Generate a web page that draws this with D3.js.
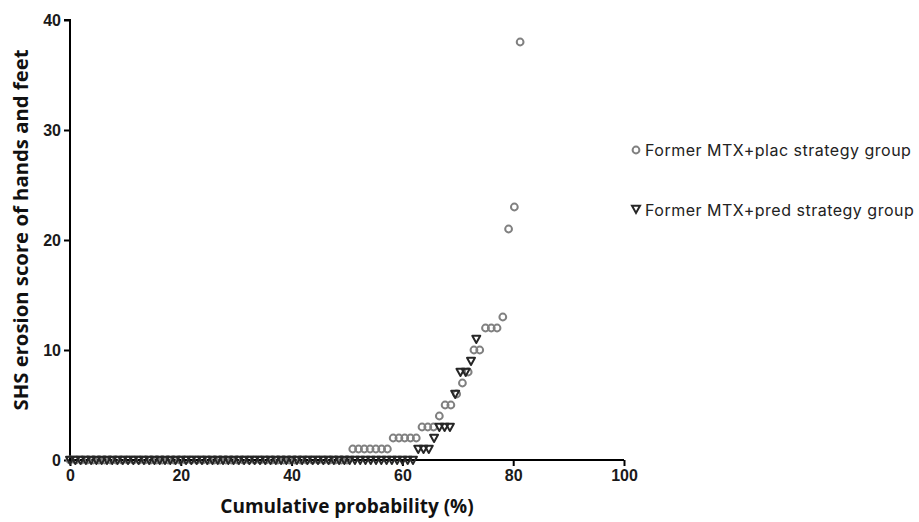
<!DOCTYPE html>
<html>
<head>
<meta charset="utf-8">
<script src="https://cdn.jsdelivr.net/npm/d3@7"></script>
<style>
  body { margin: 0; background: #fff; }
  .tick text { font-family: "Liberation Sans", Arial, sans-serif; font-weight: bold; font-size: 16px; fill: #1a1a1a; }
</style>
</head>
<body>
<div id="chart"></div>
<script>
// SHS erosion scores, sorted ascending
// [score, how many patients]
var placScores = [[0, 49], [1, 7], [2, 5], [3, 3], [4, 1], [5, 2], [6, 1], [7, 1], [8, 1],
                  [10, 2], [12, 3], [13, 1], [21, 1], [23, 1], [38, 1]];
var predScores = [[0, 66], [1, 3], [2, 1], [3, 3], [6, 1], [8, 2], [9, 1], [11, 1]];
// group sizes used for the cumulative probability
var placN = 96;
var predN = 105;

var xTicks = [0, 20, 40, 60, 80, 100];
var yTicks = [0, 10, 20, 30, 40];
var seriesNames = ['Former MTX+plac strategy group', 'Former MTX+pred strategy group'];

const width = 919;
const height = 522;
const margin = { top: 20, left: 70, right: 295, bottom: 62 };

// expand score/count pairs into ranked points
function cumulative(scores, n) {
  var out = [];
  scores.forEach(s => {
    for (let k = 0; k < s[1]; k++) out.push({ score: s[0] });
  });
  out.forEach((d, i) => { d.p = i * 100 / n; });
  return out;
}

var plac = cumulative(placScores, placN);
var pred = cumulative(predScores, predN);

var svg = d3.select('#chart').append('svg')
  .attr('width', width)
  .attr('height', height);

var x = d3.scaleLinear().domain([0, 100]).range([margin.left, 624]);
var y = d3.scaleLinear().domain([0, 40]).range([height - margin.bottom, margin.top]);

// axes
svg.append('g')
  .attr('transform', `translate(0,${y(0)})`)
  .call(d3.axisBottom(x).tickValues(xTicks).tickSize(6).tickPadding(4))
  .call(g => g.select('.domain').attr('stroke-width', 2).attr('d', `M${x(0)},0H${x(100)}`))
  .call(g => g.selectAll('.tick line').attr('stroke-width', 2));

svg.append('g')
  .attr('transform', `translate(${x(0)},0)`)
  .call(d3.axisLeft(y).tickValues(yTicks).tickSize(6).tickPadding(3))
  .call(g => g.select('.domain').attr('stroke-width', 2).attr('d', `M-6,${y(40)}H0V${y(0)}`))
  .call(g => g.selectAll('.tick line').attr('stroke-width', 2));

// axis titles
svg.append('text')
  .attr('x', (x(0) + x(100)) / 2)
  .attr('y', 513)
  .attr('text-anchor', 'middle')
  .style('font-family', '"Open Sans", sans-serif')
  .style('font-weight', 'bold')
  .style('font-size', '19px')
  .style('fill', '#111')
  .text('Cumulative probability (%)');

svg.append('text')
  .attr('transform', `translate(28,${(y(0) + y(40)) / 2 - 10}) rotate(-90)`)
  .attr('text-anchor', 'middle')
  .style('font-family', '"Open Sans", sans-serif')
  .style('font-weight', 'bold')
  .style('font-size', '20.3px')
  .style('fill', '#111')
  .text('SHS erosion score of hands and feet');

var triangle = 'M-4,-3.2L4,-3.2L0,4Z';

// circles first, triangles drawn on top where they overlap
svg.append('g').selectAll('circle')
  .data(plac)
  .enter()
  .append('circle')
  .attr('cx', d => x(d.p))
  .attr('cy', d => y(d.score))
  .attr('r', 3.4)
  .attr('fill', 'none')
  .attr('stroke', '#808080')
  .attr('stroke-width', 2);

svg.append('g').selectAll('path')
  .data(pred)
  .enter()
  .append('path')
  .attr('d', triangle)
  .attr('transform', d => `translate(${x(d.p)},${y(d.score)})`)
  .attr('fill', 'none')
  .attr('stroke', '#262626')
  .attr('stroke-width', 2)
  .attr('stroke-linejoin', 'round');

// legend
var legend = svg.append('g');
legend.append('circle')
  .attr('cx', 636).attr('cy', 150).attr('r', 3.4)
  .attr('fill', 'none').attr('stroke', '#808080').attr('stroke-width', 2);
legend.append('path')
  .attr('d', triangle)
  .attr('transform', 'translate(636,209)')
  .attr('fill', 'none').attr('stroke', '#262626').attr('stroke-width', 2);

legend.selectAll('text')
  .data(seriesNames)
  .enter()
  .append('text')
  .attr('x', 645)
  .attr('y', (d, i) => 156 + i * 60)
  .style('font-family', 'Inter, sans-serif')
  .style('font-size', '16px')
  .style('letter-spacing', '0.5px')
  .style('fill', '#222')
  .text(d => d);
</script>
</body>
</html>
